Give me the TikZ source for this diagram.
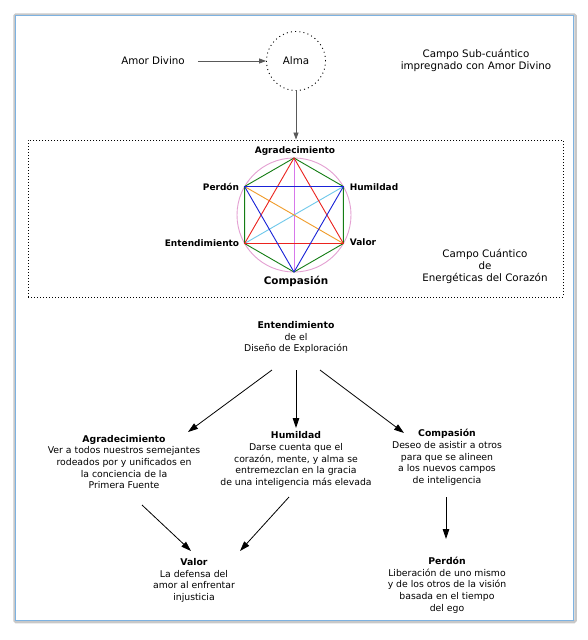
\documentclass[tikz,border=0pt]{standalone}
\usepackage{fontspec}
\setmainfont{DejaVu Sans}
\usetikzlibrary{arrows.meta,calc}
\definecolor{framebl}{RGB}{125,178,225}
\definecolor{shadowgr}{RGB}{200,200,200}
\definecolor{hgreen}{RGB}{20,125,20}
\definecolor{hred}{RGB}{235,35,30}
\definecolor{hblue}{RGB}{25,35,215}
\definecolor{horange}{RGB}{240,155,40}
\definecolor{hcyan}{RGB}{110,200,235}
\definecolor{hpink}{RGB}{228,160,210}
\definecolor{hviolet}{RGB}{215,120,235}
\begin{document}
\begin{tikzpicture}[x=1pt,y=-1pt,
  txt/.style={font=\fontsize{9.3}{11.7}\selectfont, align=center, inner sep=0pt},
  bigtxt/.style={font=\fontsize{10.3}{12}\selectfont, align=center, inner sep=0pt},
  hexlab/.style={font=\fontsize{9}{11}\selectfont\bfseries, inner sep=0pt},
  hexbig/.style={font=\fontsize{10.4}{12}\selectfont\bfseries, inner sep=0pt},
  arr/.style={-{Triangle[length=10pt,width=6.5pt]}, line width=0.8pt},
  sarr/.style={-{Triangle[length=7pt,width=5pt]}, line width=0.8pt, black!65},
  hexedge/.style={line width=0.9pt},
  dotbox/.style={draw, dash pattern=on 1pt off 2pt, line width=0.9pt, inner sep=0pt}
]
\useasboundingbox (0,0) rectangle (587,640);
% frame
\draw[shadowgr, line width=2.5pt, rounded corners=1.5pt] (14.5,14.5) rectangle (575.5,622);
\draw[framebl, line width=1.1pt, fill=white] (15.5,15.5) rectangle (573.5,620.5);

% top part
\node[bigtxt] (amor) at (153,61) {Amor Divino};
\node[dotbox, dash pattern=on 1pt off 3.2pt, circle, minimum size=59pt] (alma) at (296,61) {};
\node[bigtxt] (almat) at (296,61) {Alma};
\node[bigtxt] (sub) at (476,60) {Campo Sub-cuántico\\impregnado con Amor Divino};

\node[dotbox, minimum width=535pt, minimum height=157pt] (qbox) at (295.5,218.5) {};
\draw[sarr] ($(amor.east)+(13,0)$) -- (alma.west);
\draw[sarr] (alma.south) -- (alma.south |- qbox.north);

\node[bigtxt] (campo) at (485,266.5) {Campo Cuántico\\de\\Energéticas del Corazón};

% hexagon
\coordinate (vA) at (294,158);
\coordinate (vH) at (343.4,186.5);
\coordinate (vV) at (343.4,243.5);
\coordinate (vC) at (294,272);
\coordinate (vE) at (244.6,243.5);
\coordinate (vP) at (244.6,186.5);
\draw[hpink, line width=0.9pt] (294,215) circle (57);
\draw[hexedge, hviolet] (vA) -- (vC);
\draw[hexedge, hgreen] (vA) -- (vH) -- (vV) -- (vC) -- (vE) -- (vP) -- cycle;
\draw[hexedge, hcyan] (vE) -- (vH);
\draw[hexedge, horange] (vP) -- (vV);
\draw[hexedge, hred] (vA) -- (vE) -- (vV) -- cycle;
\draw[hexedge, hblue] (vP) -- (vH) -- (vC) -- cycle;

\node[hexlab] (lA) at (295,151) {Agradecimiento};
\node[hexlab] (lP) at (221,187) {Perdón};
\node[hexlab] (lH) at (374,187) {Humildad};
\node[hexlab] (lE) at (202,243) {Entendimiento};
\node[hexlab] (lV) at (363,242) {Valor};
\node[hexbig] (lC) at (296,281) {Compasión};

% lower part
\node[txt] (ent) at (296,337.5) {\textbf{Entendimiento}\\de el\\Diseño de Exploración};
\node[txt] (agr) at (124,462) {\textbf{Agradecimiento}\\Ver a todos nuestros semejantes\\rodeados por y unificados en\\la conciencia de la\\Primera Fuente};
\node[txt] (hum) at (296,459.5) {\textbf{Humildad}\\Darse cuenta que el\\corazón, mente, y alma se\\entremezclan en la gracia\\de una inteligencia más elevada};
\node[txt] (com) at (447,457.5) {\textbf{Compasión}\\Deseo de asistir a otros\\para que se alineen\\a los nuevos campos\\de inteligencia};
\node[txt] (val) at (194,580.5) {\textbf{Valor}\\La defensa del\\amor al enfrentar\\injusticia};
\node[txt] (per) at (447,585) {\textbf{Perdón}\\Liberación de uno mismo\\y de los otros de la visión\\basada en el tiempo\\del ego};

\coordinate (eL) at (272,370);
\coordinate (eM) at (296,370);
\coordinate (eR) at (320,370);
\coordinate (aL) at (188,432);
\coordinate (aM) at (296,428);
\coordinate (aR) at (404,433);
\draw[arr] (eL) -- (aL);
\draw[arr] (eM) -- (aM);
\draw[arr] (eR) -- (aR);

\coordinate (gS) at (142,505);
\coordinate (gT) at (191,551);
\coordinate (hS) at (289,497);
\coordinate (hT) at (240,551);
\coordinate (cS) at (446,497);
\coordinate (cT) at (446,539);
\draw[arr] (gS) -- (gT);
\draw[arr] (hS) -- (hT);
\draw[arr] (cS) -- (cT);
\end{tikzpicture}
\end{document}
